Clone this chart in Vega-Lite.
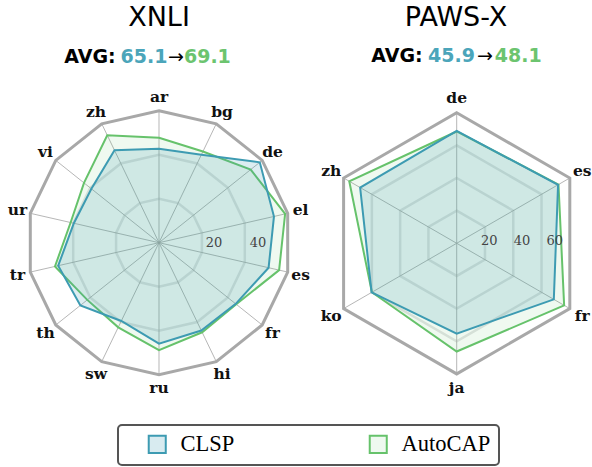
{
  "$schema": "https://vega.github.io/schema/vega-lite/v6.json",
  "padding": {"top": 4, "left": 0, "right": 0, "bottom": 0},
  "spacing": 0,
  "bounds": "flush",
  "background": "white",
  "config": {"view": {"stroke": null}, "legend": {"labelFont": "Liberation Serif", "labelFontSize": 22.5, "labelColor": "#000000"}},
  "datasets": {
    "xnli_axes": [
      {"lang": "ar", "i": 0, "rings": [20, 40]},
      {"lang": "bg", "i": 1, "rings": [20, 40]},
      {"lang": "de", "i": 2, "rings": [20, 40]},
      {"lang": "el", "i": 3, "rings": [20, 40]},
      {"lang": "es", "i": 4, "rings": [20, 40]},
      {"lang": "fr", "i": 5, "rings": [20, 40]},
      {"lang": "hi", "i": 6, "rings": [20, 40]},
      {"lang": "ru", "i": 7, "rings": [20, 40]},
      {"lang": "sw", "i": 8, "rings": [20, 40]},
      {"lang": "th", "i": 9, "rings": [20, 40]},
      {"lang": "tr", "i": 10, "rings": [20, 40]},
      {"lang": "ur", "i": 11, "rings": [20, 40]},
      {"lang": "vi", "i": 12, "rings": [20, 40]},
      {"lang": "zh", "i": 13, "rings": [20, 40]}
    ],
    "xnli_scores": [
      {"lang": "ar", "model": "CLSP", "value": 42.7}, {"lang": "ar", "model": "AutoCAP", "value": 47.7},
      {"lang": "bg", "model": "CLSP", "value": 44.4}, {"lang": "bg", "model": "AutoCAP", "value": 46.0},
      {"lang": "de", "model": "CLSP", "value": 58.6}, {"lang": "de", "model": "AutoCAP", "value": 53.3},
      {"lang": "el", "model": "CLSP", "value": 53.6}, {"lang": "el", "model": "AutoCAP", "value": 58.8},
      {"lang": "es", "model": "CLSP", "value": 51.1}, {"lang": "es", "model": "AutoCAP", "value": 56.0},
      {"lang": "fr", "model": "CLSP", "value": 44.6}, {"lang": "fr", "model": "AutoCAP", "value": 44.9},
      {"lang": "hi", "model": "CLSP", "value": 44.3}, {"lang": "hi", "model": "AutoCAP", "value": 45.2},
      {"lang": "ru", "model": "CLSP", "value": 45.9}, {"lang": "ru", "model": "AutoCAP", "value": 48.8},
      {"lang": "sw", "model": "CLSP", "value": 39.5}, {"lang": "sw", "model": "AutoCAP", "value": 42.7},
      {"lang": "th", "model": "CLSP", "value": 45.7}, {"lang": "th", "model": "AutoCAP", "value": 41.7},
      {"lang": "tr", "model": "CLSP", "value": 47.0}, {"lang": "tr", "model": "AutoCAP", "value": 48.5},
      {"lang": "ur", "model": "CLSP", "value": 39.7}, {"lang": "ur", "model": "AutoCAP", "value": 41.2},
      {"lang": "vi", "model": "CLSP", "value": 39.3}, {"lang": "vi", "model": "AutoCAP", "value": 43.6},
      {"lang": "zh", "model": "CLSP", "value": 46.6}, {"lang": "zh", "model": "AutoCAP", "value": 54.2}
    ],
    "xnli_ticks": [{"tick": 20}, {"tick": 40}],
    "xnli_avg": [
      {"piece": "AVG:", "role": "label"},
      {"piece": "65.1", "role": "CLSP"},
      {"piece": "→", "role": "arrow"},
      {"piece": "69.1", "role": "AutoCAP"}
    ],
    "paws_axes": [
      {"lang": "de", "i": 0, "rings": [20, 40, 60]},
      {"lang": "es", "i": 1, "rings": [20, 40, 60]},
      {"lang": "fr", "i": 2, "rings": [20, 40, 60]},
      {"lang": "ja", "i": 3, "rings": [20, 40, 60]},
      {"lang": "ko", "i": 4, "rings": [20, 40, 60]},
      {"lang": "zh", "i": 5, "rings": [20, 40, 60]}
    ],
    "paws_scores": [
      {"lang": "de", "model": "CLSP", "value": 68.8}, {"lang": "de", "model": "AutoCAP", "value": 68.5},
      {"lang": "es", "model": "CLSP", "value": 71.7}, {"lang": "es", "model": "AutoCAP", "value": 72.0},
      {"lang": "fr", "model": "CLSP", "value": 68.7}, {"lang": "fr", "model": "AutoCAP", "value": 76.0},
      {"lang": "ja", "model": "CLSP", "value": 55.3}, {"lang": "ja", "model": "AutoCAP", "value": 66.3},
      {"lang": "ko", "model": "CLSP", "value": 60.2}, {"lang": "ko", "model": "AutoCAP", "value": 60.0},
      {"lang": "zh", "model": "CLSP", "value": 68.3}, {"lang": "zh", "model": "AutoCAP", "value": 76.0}
    ],
    "paws_ticks": [{"tick": 20}, {"tick": 40}, {"tick": 60}],
    "paws_avg": [
      {"piece": "AVG:", "role": "label"},
      {"piece": "45.9", "role": "CLSP"},
      {"piece": "→", "role": "arrow"},
      {"piece": "48.1", "role": "AutoCAP"}
    ]
  },
  "hconcat": [
    {
      "width": 300,
      "height": 378,
      "title": {"text": "XNLI", "font": "DejaVu Sans", "fontSize": 27, "fontWeight": "normal", "color": "#000000", "anchor": "middle", "frame": "group", "offset": 9, "dx": 9},
      "layer": [
        {
          "data": {"name": "xnli_axes"},
          "transform": [
            {"flatten": ["rings"], "as": ["ring"]},
            {"calculate": "datum.ring * sin(2 * PI * datum.i / 14)", "as": "x"},
            {"calculate": "datum.ring * cos(2 * PI * datum.i / 14)", "as": "y"}
          ],
          "mark": {"type": "line", "interpolate": "linear-closed", "stroke": "#e2e4e4", "strokeWidth": 2.5},
          "encoding": {
            "x": {"field": "x", "type": "quantitative", "scale": {"domain": [-72.27, 64.09], "nice": false, "zero": false}, "axis": null},
            "y": {"field": "y", "type": "quantitative", "scale": {"domain": [-80.14, 91.68], "nice": false, "zero": false}, "axis": null},
            "detail": {"field": "ring", "type": "nominal"}, "order": {"field": "i", "type": "quantitative"}}
        },
        {
          "data": {"name": "xnli_axes"},
          "transform": [
            {"calculate": "60 * sin(2 * PI * datum.i / 14)", "as": "x"},
            {"calculate": "60 * cos(2 * PI * datum.i / 14)", "as": "y"}
          ],
          "mark": {"type": "rule", "stroke": "#a3a3a3", "strokeWidth": 0.8},
          "encoding": {
            "x": {"field": "x", "type": "quantitative", "scale": {"domain": [-72.27, 64.09], "nice": false, "zero": false}, "axis": null},
            "y": {"field": "y", "type": "quantitative", "scale": {"domain": [-80.14, 91.68], "nice": false, "zero": false}, "axis": null},
            "x2": {"datum": 0}, "y2": {"datum": 0}}
        },
        {
          "data": {"name": "xnli_axes"},
          "transform": [
            {"calculate": "60 * sin(2 * PI * datum.i / 14)", "as": "x"},
            {"calculate": "60 * cos(2 * PI * datum.i / 14)", "as": "y"}
          ],
          "mark": {"type": "line", "interpolate": "linear-closed", "stroke": "#a8a8a8", "strokeWidth": 3},
          "encoding": {
            "x": {"field": "x", "type": "quantitative", "scale": {"domain": [-72.27, 64.09], "nice": false, "zero": false}, "axis": null},
            "y": {"field": "y", "type": "quantitative", "scale": {"domain": [-80.14, 91.68], "nice": false, "zero": false}, "axis": null},
            "order": {"field": "i", "type": "quantitative"}}
        },
        {
          "data": {"name": "xnli_scores"},
          "transform": [
            {"filter": "datum.model === 'AutoCAP'"},
            {"lookup": "lang", "from": {"data": {"name": "xnli_axes"}, "key": "lang", "fields": ["i"]}},
            {"calculate": "datum.value * sin(2 * PI * datum.i / 14)", "as": "x"},
            {"calculate": "datum.value * cos(2 * PI * datum.i / 14)", "as": "y"}
          ],
          "mark": {"type": "line", "interpolate": "linear-closed", "strokeWidth": 2, "fillOpacity": 0.1},
          "encoding": {
            "x": {"field": "x", "type": "quantitative", "scale": {"domain": [-72.27, 64.09], "nice": false, "zero": false}, "axis": null},
            "y": {"field": "y", "type": "quantitative", "scale": {"domain": [-80.14, 91.68], "nice": false, "zero": false}, "axis": null},
            "stroke": {"field": "model", "type": "nominal", "scale": {"domain": ["CLSP", "AutoCAP"], "range": ["#3d9bb2", "#66c26b"]}, "legend": {"title": null, "orient": "none", "legendX": 118, "legendY": 384, "direction": "horizontal", "symbolType": "square", "symbolSize": 290, "symbolStrokeWidth": 2, "labelFont": "Liberation Serif", "labelFontSize": 22.5, "labelColor": "#000000", "strokeColor": "#555555", "cornerRadius": 4, "padding": 8, "columnPadding": 112, "labelOffset": 12, "symbolOffset": 20, "encode": {"symbols": {"update": {"fillOpacity": {"signal": "datum.value === 'CLSP' ? 0.2 : 0.1"}}}, "legend": {"update": {"strokeWidth": {"value": 2}}}}}},
            "fill": {"field": "model", "type": "nominal", "scale": {"domain": ["CLSP", "AutoCAP"], "range": ["#3d9bb2", "#66c26b"]}, "legend": {"title": null, "orient": "none", "legendX": 118, "legendY": 384, "direction": "horizontal", "symbolType": "square", "symbolSize": 290, "symbolStrokeWidth": 2, "labelFont": "Liberation Serif", "labelFontSize": 22.5, "labelColor": "#000000", "strokeColor": "#555555", "cornerRadius": 4, "padding": 8, "columnPadding": 112, "labelOffset": 12, "symbolOffset": 20, "encode": {"symbols": {"update": {"fillOpacity": {"signal": "datum.value === 'CLSP' ? 0.2 : 0.1"}}}, "legend": {"update": {"strokeWidth": {"value": 2}}}}}},
            "order": {"field": "i", "type": "quantitative"}
          }
        },
        {
          "data": {"name": "xnli_scores"},
          "transform": [
            {"filter": "datum.model === 'CLSP'"},
            {"lookup": "lang", "from": {"data": {"name": "xnli_axes"}, "key": "lang", "fields": ["i"]}},
            {"calculate": "datum.value * sin(2 * PI * datum.i / 14)", "as": "x"},
            {"calculate": "datum.value * cos(2 * PI * datum.i / 14)", "as": "y"}
          ],
          "mark": {"type": "line", "interpolate": "linear-closed", "strokeWidth": 2, "fillOpacity": 0.18},
          "encoding": {
            "x": {"field": "x", "type": "quantitative", "scale": {"domain": [-72.27, 64.09], "nice": false, "zero": false}, "axis": null},
            "y": {"field": "y", "type": "quantitative", "scale": {"domain": [-80.14, 91.68], "nice": false, "zero": false}, "axis": null},
            "stroke": {"field": "model", "type": "nominal", "scale": {"domain": ["CLSP", "AutoCAP"], "range": ["#3d9bb2", "#66c26b"]}},
            "fill": {"field": "model", "type": "nominal", "scale": {"domain": ["CLSP", "AutoCAP"], "range": ["#3d9bb2", "#66c26b"]}},
            "order": {"field": "i", "type": "quantitative"}
          }
        },
        {
          "data": {"name": "xnli_axes"},
          "transform": [
            {"calculate": "66 * sin(2 * PI * datum.i / 14)", "as": "x"},
            {"calculate": "66 * cos(2 * PI * datum.i / 14)", "as": "y"}
          ],
          "mark": {"type": "text", "font": "DejaVu Serif", "fontWeight": "bold", "fontSize": 15.5, "align": "center", "baseline": "middle", "color": "#111111"},
          "encoding": {
            "x": {"field": "x", "type": "quantitative", "scale": {"domain": [-72.27, 64.09], "nice": false, "zero": false}, "axis": null},
            "y": {"field": "y", "type": "quantitative", "scale": {"domain": [-80.14, 91.68], "nice": false, "zero": false}, "axis": null},
            "text": {"field": "lang", "type": "nominal"}}
        },
        {
          "data": {"name": "xnli_ticks"},
          "mark": {"type": "text", "font": "DejaVu Serif", "fontSize": 13, "align": "center", "baseline": "middle", "color": "#444444", "dx": 11},
          "encoding": {
            "x": {"field": "tick", "type": "quantitative", "scale": {"domain": [-72.27, 64.09], "nice": false, "zero": false}, "axis": null},
            "y": {"datum": 0, "type": "quantitative", "scale": {"domain": [-80.14, 91.68], "nice": false, "zero": false}, "axis": null},
            "text": {"field": "tick", "type": "quantitative"}}
        },
        {
          "data": {"name": "xnli_avg"},
          "transform": [{"filter": "datum.role === 'label'"}],
          "mark": {"type": "text", "font": "DejaVu Sans", "fontWeight": "bold", "fontSize": 19, "align": "center", "baseline": "middle", "color": "#000000"},
          "encoding": {
            "x": {"datum": -31.4, "type": "quantitative", "scale": {"domain": [-72.27, 64.09], "nice": false, "zero": false}, "axis": null},
            "y": {"datum": 84.4, "type": "quantitative", "scale": {"domain": [-80.14, 91.68], "nice": false, "zero": false}, "axis": null},
            "text": {"field": "piece", "type": "nominal"}}
        },
        {
          "data": {"name": "xnli_avg"},
          "transform": [{"filter": "datum.role === 'CLSP'"}],
          "mark": {"type": "text", "font": "DejaVu Sans", "fontWeight": "bold", "fontSize": 19, "align": "center", "baseline": "middle", "color": "#4ba5ba"},
          "encoding": {
            "x": {"datum": -6.8, "type": "quantitative", "scale": {"domain": [-72.27, 64.09], "nice": false, "zero": false}, "axis": null},
            "y": {"datum": 84.4, "type": "quantitative", "scale": {"domain": [-80.14, 91.68], "nice": false, "zero": false}, "axis": null},
            "text": {"field": "piece", "type": "nominal"}}
        },
        {
          "data": {"name": "xnli_avg"},
          "transform": [{"filter": "datum.role === 'arrow'"}],
          "mark": {"type": "text", "font": "DejaVu Sans", "fontSize": 19, "align": "center", "baseline": "middle", "color": "#000000"},
          "encoding": {
            "x": {"datum": 7.7, "type": "quantitative", "scale": {"domain": [-72.27, 64.09], "nice": false, "zero": false}, "axis": null},
            "y": {"datum": 84.4, "type": "quantitative", "scale": {"domain": [-80.14, 91.68], "nice": false, "zero": false}, "axis": null},
            "text": {"field": "piece", "type": "nominal"}}
        },
        {
          "data": {"name": "xnli_avg"},
          "transform": [{"filter": "datum.role === 'AutoCAP'"}],
          "mark": {"type": "text", "font": "DejaVu Sans", "fontWeight": "bold", "fontSize": 19, "align": "center", "baseline": "middle", "color": "#6cc46f"},
          "encoding": {
            "x": {"datum": 22.0, "type": "quantitative", "scale": {"domain": [-72.27, 64.09], "nice": false, "zero": false}, "axis": null},
            "y": {"datum": 84.4, "type": "quantitative", "scale": {"domain": [-80.14, 91.68], "nice": false, "zero": false}, "axis": null},
            "text": {"field": "piece", "type": "nominal"}}
        }
      ]
    },
    {
      "width": 292,
      "height": 378,
      "title": {"text": "PAWS-X", "font": "DejaVu Sans", "fontSize": 27, "fontWeight": "normal", "color": "#000000", "anchor": "middle", "frame": "group", "offset": 9, "dx": 10},
      "layer": [
        {
          "data": {"name": "paws_axes"},
          "transform": [
            {"flatten": ["rings"], "as": ["ring"]},
            {"calculate": "datum.ring * sin(2 * PI * datum.i / 6)", "as": "x"},
            {"calculate": "datum.ring * cos(2 * PI * datum.i / 6)", "as": "y"}
          ],
          "mark": {"type": "line", "interpolate": "linear-closed", "stroke": "#e2e4e4", "strokeWidth": 2.5},
          "encoding": {
            "x": {"field": "x", "type": "quantitative", "scale": {"domain": [-95.99, 82.88], "nice": false, "zero": false}, "axis": null},
            "y": {"field": "y", "type": "quantitative", "scale": {"domain": [-107.63, 123.92], "nice": false, "zero": false}, "axis": null},
            "detail": {"field": "ring", "type": "nominal"}, "order": {"field": "i", "type": "quantitative"}}
        },
        {
          "data": {"name": "paws_axes"},
          "transform": [
            {"calculate": "80 * sin(2 * PI * datum.i / 6)", "as": "x"},
            {"calculate": "80 * cos(2 * PI * datum.i / 6)", "as": "y"}
          ],
          "mark": {"type": "rule", "stroke": "#a3a3a3", "strokeWidth": 0.8},
          "encoding": {
            "x": {"field": "x", "type": "quantitative", "scale": {"domain": [-95.99, 82.88], "nice": false, "zero": false}, "axis": null},
            "y": {"field": "y", "type": "quantitative", "scale": {"domain": [-107.63, 123.92], "nice": false, "zero": false}, "axis": null},
            "x2": {"datum": 0}, "y2": {"datum": 0}}
        },
        {
          "data": {"name": "paws_axes"},
          "transform": [
            {"calculate": "80 * sin(2 * PI * datum.i / 6)", "as": "x"},
            {"calculate": "80 * cos(2 * PI * datum.i / 6)", "as": "y"}
          ],
          "mark": {"type": "line", "interpolate": "linear-closed", "stroke": "#a8a8a8", "strokeWidth": 3},
          "encoding": {
            "x": {"field": "x", "type": "quantitative", "scale": {"domain": [-95.99, 82.88], "nice": false, "zero": false}, "axis": null},
            "y": {"field": "y", "type": "quantitative", "scale": {"domain": [-107.63, 123.92], "nice": false, "zero": false}, "axis": null},
            "order": {"field": "i", "type": "quantitative"}}
        },
        {
          "data": {"name": "paws_scores"},
          "transform": [
            {"filter": "datum.model === 'AutoCAP'"},
            {"lookup": "lang", "from": {"data": {"name": "paws_axes"}, "key": "lang", "fields": ["i"]}},
            {"calculate": "datum.value * sin(2 * PI * datum.i / 6)", "as": "x"},
            {"calculate": "datum.value * cos(2 * PI * datum.i / 6)", "as": "y"}
          ],
          "mark": {"type": "line", "interpolate": "linear-closed", "strokeWidth": 2, "fillOpacity": 0.1},
          "encoding": {
            "x": {"field": "x", "type": "quantitative", "scale": {"domain": [-95.99, 82.88], "nice": false, "zero": false}, "axis": null},
            "y": {"field": "y", "type": "quantitative", "scale": {"domain": [-107.63, 123.92], "nice": false, "zero": false}, "axis": null},
            "stroke": {"field": "model", "type": "nominal", "scale": {"domain": ["CLSP", "AutoCAP"], "range": ["#3d9bb2", "#66c26b"]}},
            "fill": {"field": "model", "type": "nominal", "scale": {"domain": ["CLSP", "AutoCAP"], "range": ["#3d9bb2", "#66c26b"]}},
            "order": {"field": "i", "type": "quantitative"}
          }
        },
        {
          "data": {"name": "paws_scores"},
          "transform": [
            {"filter": "datum.model === 'CLSP'"},
            {"lookup": "lang", "from": {"data": {"name": "paws_axes"}, "key": "lang", "fields": ["i"]}},
            {"calculate": "datum.value * sin(2 * PI * datum.i / 6)", "as": "x"},
            {"calculate": "datum.value * cos(2 * PI * datum.i / 6)", "as": "y"}
          ],
          "mark": {"type": "line", "interpolate": "linear-closed", "strokeWidth": 2, "fillOpacity": 0.18},
          "encoding": {
            "x": {"field": "x", "type": "quantitative", "scale": {"domain": [-95.99, 82.88], "nice": false, "zero": false}, "axis": null},
            "y": {"field": "y", "type": "quantitative", "scale": {"domain": [-107.63, 123.92], "nice": false, "zero": false}, "axis": null},
            "stroke": {"field": "model", "type": "nominal", "scale": {"domain": ["CLSP", "AutoCAP"], "range": ["#3d9bb2", "#66c26b"]}},
            "fill": {"field": "model", "type": "nominal", "scale": {"domain": ["CLSP", "AutoCAP"], "range": ["#3d9bb2", "#66c26b"]}},
            "order": {"field": "i", "type": "quantitative"}
          }
        },
        {
          "data": {"name": "paws_axes"},
          "transform": [
            {"calculate": "88.8 * sin(2 * PI * datum.i / 6)", "as": "x"},
            {"calculate": "88.8 * cos(2 * PI * datum.i / 6)", "as": "y"}
          ],
          "mark": {"type": "text", "font": "DejaVu Serif", "fontWeight": "bold", "fontSize": 15.5, "align": "center", "baseline": "middle", "color": "#111111"},
          "encoding": {
            "x": {"field": "x", "type": "quantitative", "scale": {"domain": [-95.99, 82.88], "nice": false, "zero": false}, "axis": null},
            "y": {"field": "y", "type": "quantitative", "scale": {"domain": [-107.63, 123.92], "nice": false, "zero": false}, "axis": null},
            "text": {"field": "lang", "type": "nominal"}}
        },
        {
          "data": {"name": "paws_ticks"},
          "mark": {"type": "text", "font": "DejaVu Serif", "fontSize": 13, "align": "center", "baseline": "middle", "color": "#444444", "dy": -2},
          "encoding": {
            "x": {"field": "tick", "type": "quantitative", "scale": {"domain": [-95.99, 82.88], "nice": false, "zero": false}, "axis": null},
            "y": {"datum": 0, "type": "quantitative", "scale": {"domain": [-107.63, 123.92], "nice": false, "zero": false}, "axis": null},
            "text": {"field": "tick", "type": "quantitative"}}
        },
        {
          "data": {"name": "paws_avg"},
          "transform": [{"filter": "datum.role === 'label'"}],
          "mark": {"type": "text", "font": "DejaVu Sans", "fontWeight": "bold", "fontSize": 19, "align": "center", "baseline": "middle", "color": "#000000"},
          "encoding": {
            "x": {"datum": -36.6, "type": "quantitative", "scale": {"domain": [-95.99, 82.88], "nice": false, "zero": false}, "axis": null},
            "y": {"datum": 114.7, "type": "quantitative", "scale": {"domain": [-107.63, 123.92], "nice": false, "zero": false}, "axis": null},
            "text": {"field": "piece", "type": "nominal"}}
        },
        {
          "data": {"name": "paws_avg"},
          "transform": [{"filter": "datum.role === 'CLSP'"}],
          "mark": {"type": "text", "font": "DejaVu Sans", "fontWeight": "bold", "fontSize": 19, "align": "center", "baseline": "middle", "color": "#4ba5ba"},
          "encoding": {
            "x": {"datum": -3.2, "type": "quantitative", "scale": {"domain": [-95.99, 82.88], "nice": false, "zero": false}, "axis": null},
            "y": {"datum": 114.7, "type": "quantitative", "scale": {"domain": [-107.63, 123.92], "nice": false, "zero": false}, "axis": null},
            "text": {"field": "piece", "type": "nominal"}}
        },
        {
          "data": {"name": "paws_avg"},
          "transform": [{"filter": "datum.role === 'arrow'"}],
          "mark": {"type": "text", "font": "DejaVu Sans", "fontSize": 19, "align": "center", "baseline": "middle", "color": "#000000"},
          "encoding": {
            "x": {"datum": 17.3, "type": "quantitative", "scale": {"domain": [-95.99, 82.88], "nice": false, "zero": false}, "axis": null},
            "y": {"datum": 114.7, "type": "quantitative", "scale": {"domain": [-107.63, 123.92], "nice": false, "zero": false}, "axis": null},
            "text": {"field": "piece", "type": "nominal"}}
        },
        {
          "data": {"name": "paws_avg"},
          "transform": [{"filter": "datum.role === 'AutoCAP'"}],
          "mark": {"type": "text", "font": "DejaVu Sans", "fontWeight": "bold", "fontSize": 19, "align": "center", "baseline": "middle", "color": "#6cc46f"},
          "encoding": {
            "x": {"datum": 37.7, "type": "quantitative", "scale": {"domain": [-95.99, 82.88], "nice": false, "zero": false}, "axis": null},
            "y": {"datum": 114.7, "type": "quantitative", "scale": {"domain": [-107.63, 123.92], "nice": false, "zero": false}, "axis": null},
            "text": {"field": "piece", "type": "nominal"}}
        }
      ]
    }
  ]
}
